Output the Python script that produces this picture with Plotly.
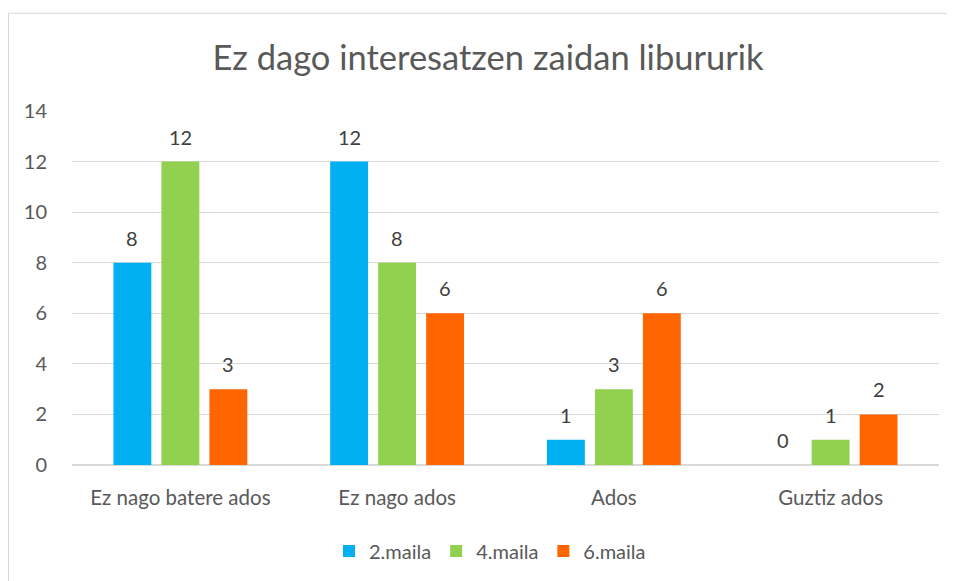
import plotly.graph_objects as go

categories = ["Ez nago batere ados", "Ez nago ados", "Ados", "Guztiz ados"]
series_names = ["2.maila", "4.maila", "6.maila"]
maila2 = [8, 12, 1, 0]
maila4 = [12, 8, 3, 1]
maila6 = [3, 6, 6, 2]
colors = ["#00B0F0", "#92D050", "#FF6600"]
y_ticks = [0, 2, 4, 6, 8, 10, 12, 14]

# page body has an 8px margin, so the figure is drawn 8px in from the window
OFF = 8
W, H = 955 - OFF, 581 - OFF
ML, MT = 72 - OFF, 111 - OFF
MR = W - (939 - OFF)
MB = H - (466 - OFF)
plot_w = W - ML - MR
plot_h = H - MT - MB
bargap = 0.336
cat_w = plot_w / len(categories)
slot = cat_w * (1 - bargap) / len(series_names)
FONT = "Lato"

fig = go.Figure()
all_series = [maila2, maila4, maila6]
for name, vals, c in zip(series_names, all_series, colors):
    fig.add_trace(go.Bar(name=name, x=categories, y=vals, marker_color=c,
                         marker_line_width=0))

annotations = []
for i, vals in enumerate(all_series):
    shift = (i - (len(series_names) - 1) / 2) * slot
    for cat, v in zip(categories, vals):
        annotations.append(dict(x=cat, y=v, xref="x", yref="y", text=str(v),
                                showarrow=False, xshift=shift, yshift=25,
                                font=dict(family=FONT, size=20, color="#404040")))

fig.update_layout(
    width=W, height=H,
    margin=dict(l=ML, r=MR, t=MT, b=MB),
    paper_bgcolor="white", plot_bgcolor="white",
    barmode="group", bargap=bargap, bargroupgap=0.21,
    title=dict(text="Ez dago interesatzen zaidan libururik",
               x=(488 - OFF) / W, xanchor="center", y=1 - (58 - OFF) / H, yanchor="middle",
               font=dict(family=FONT, size=34.5, color="#595959")),
    font=dict(family=FONT, size=20, color="#595959"),
    showlegend=True,
    legend=dict(orientation="h", x=(490 - 72) / plot_w, xanchor="center",
                y=-(551 - 466) / plot_h, yanchor="middle",
                font=dict(size=20, color="#595959"), traceorder="normal"),
    annotations=annotations,
    shapes=[dict(type="rect", xref="paper", yref="paper",
                 x0=(0.5 - ML) / plot_w, x1=1.2,
                 y0=-0.5, y1=(plot_h + MT - 5) / plot_h,
                 line=dict(color="#D9D9D9", width=1), layer="below")],
)
fig.update_xaxes(showgrid=False, showline=True, linecolor="#D9D9D9", linewidth=1,
                 ticks="outside", ticklen=14, tickcolor="rgba(0,0,0,0)",
                 tickfont=dict(size=20.5, color="#595959"))
fig.update_yaxes(range=[0, 14], tickvals=y_ticks, showgrid=True, gridcolor="#D9D9D9",
                 gridwidth=1, zeroline=True, zerolinecolor="#D9D9D9", showline=False,
                 ticks="outside", ticklen=20, tickcolor="rgba(0,0,0,0)",
                 tickfont=dict(size=20, color="#595959"))

fig.write_html("out.html")
